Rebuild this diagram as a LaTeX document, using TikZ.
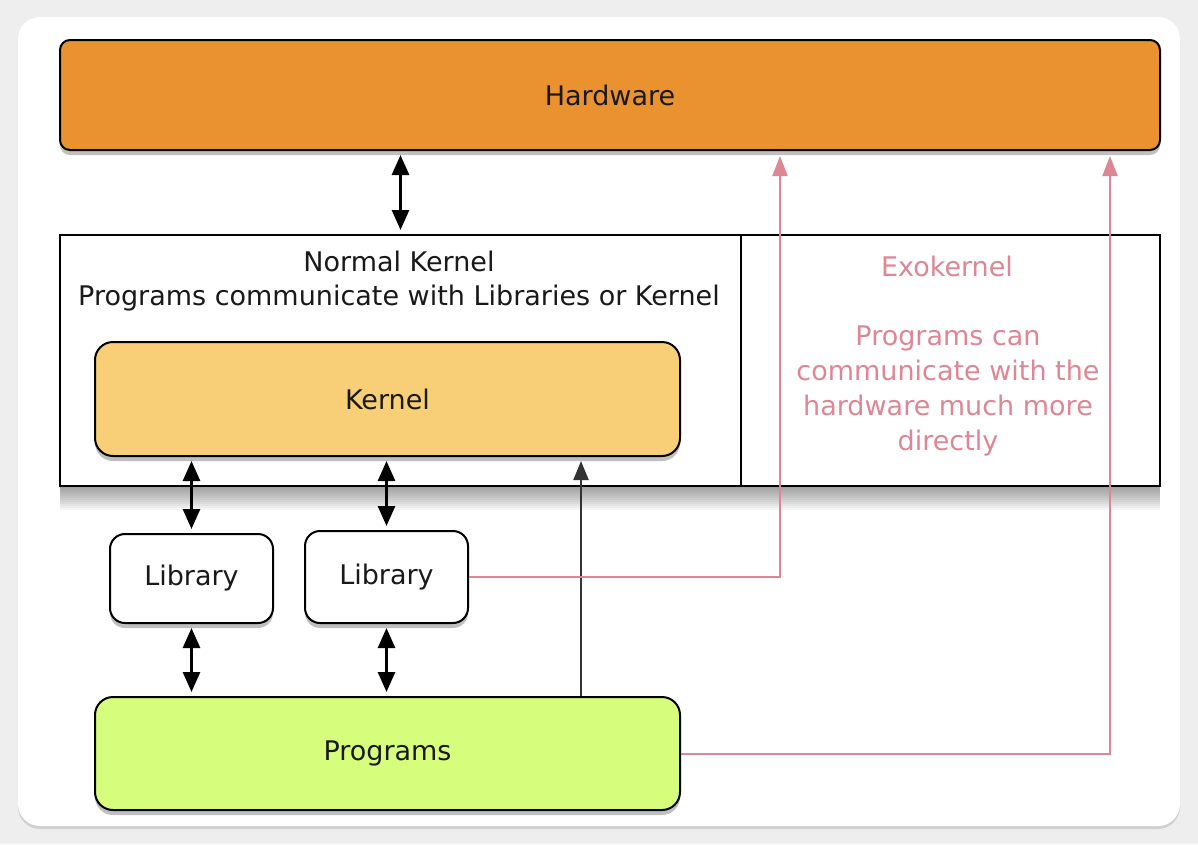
\documentclass[tikz,border=0pt]{standalone}
\usepackage{fontspec}
\setmainfont{DejaVu Sans}
\usetikzlibrary{arrows.meta,shadows,calc}
\definecolor{hwc}{RGB}{234,145,48}
\definecolor{knc}{RGB}{248,207,118}
\definecolor{pgc}{RGB}{214,254,124}
\definecolor{pinkc}{RGB}{222,134,148}
\definecolor{bgc}{RGB}{238,238,238}
\definecolor{txt}{RGB}{25,25,25}
\tikzset{
  sh/.style={drop shadow={shadow xshift=0pt,shadow yshift=-5pt,opacity=0.25,fill=black}},
  boxx/.style={draw=black,line width=2pt,inner sep=0pt,text=txt,
    font=\fontsize{27}{34}\selectfont,sh},
  plain/.style={draw=black,line width=2pt,inner sep=0pt},
  dbl/.style={line width=2.8pt,black,{Triangle[width=17pt,length=20pt]}-{Triangle[width=17pt,length=20pt]},
    shorten <=4pt,shorten >=4pt},
  sgl/.style={line width=2.2pt,black!80,-{Triangle[width=15pt,length=19pt]},shorten >=4pt},
  pnk/.style={line width=2pt,pinkc,-{Triangle[width=15pt,length=20pt]},shorten >=5pt},
  lbl/.style={text=txt,font=\fontsize{27}{34}\selectfont,align=center,inner sep=0pt},
  plbl/.style={text=pinkc,font=\fontsize{27}{35}\selectfont,align=center,inner sep=0pt},
}
\begin{document}
\begin{tikzpicture}[x=1pt,y=-1pt]
\useasboundingbox (0,0) rectangle (1198,844);
\fill[bgc] (0,0) rectangle (1198,844);
\fill[white,rounded corners=22pt,drop shadow={shadow xshift=0pt,shadow yshift=-3pt,opacity=0.12,fill=black}] (18,17) rectangle (1180,826);

% soft shadow under the kernel frame
\foreach \k in {2,4,...,24} {
  \fill[black,opacity=0.035] (60,300) rectangle (1160,486+\k);
}

\node[boxx,fill=hwc,rounded corners=10pt,minimum width=1100pt,minimum height=110pt] (hw) at (610,95) {Hardware};
\node[plain,fill=white,minimum width=681pt,minimum height=251pt] (normal) at (400.5,360.5) {};
\node[plain,fill=white,minimum width=419pt,minimum height=251pt] (exo) at (950.5,360.5) {};
\node[boxx,fill=knc,rounded corners=18pt,minimum width=585pt,minimum height=114pt] (kernel) at (387.5,399) {Kernel};
\node[boxx,fill=white,rounded corners=15pt,minimum width=163pt,minimum height=89pt] (lib1) at (191.5,578.5) {Library};
\node[boxx,fill=white,rounded corners=15pt,minimum width=163pt,minimum height=92pt] (lib2) at (386.5,577) {Library};
\node[boxx,fill=pgc,rounded corners=18pt,minimum width=585pt,minimum height=113pt] (prog) at (387.5,753.5) {Programs};

\node[lbl] (ntext) at (399,281) {Normal Kernel\\Programs communicate with Libraries or Kernel};
\node[plbl] (etitle) at (947,266) {Exokernel};
\node[plbl] (etext) at (948,391) {Programs can\\communicate with the\\hardware much more\\directly};

\draw[dbl] (hw.south -| normal.north) -- (normal.north);
\draw[dbl] (lib1.north |- kernel.south) -- (lib1.north);
\draw[dbl] (lib2.north |- kernel.south) -- (lib2.north);
\draw[dbl] (lib1.south) -- (lib1.south |- prog.north);
\draw[dbl] (lib2.south) -- (lib2.south |- prog.north);
\draw[sgl] ([xshift=193.5pt]prog.north) -- ([xshift=193.5pt]kernel.south);
\draw[pnk] (lib2.east) -| ([xshift=170pt]hw.south);
\draw[pnk] (prog.east) -| ([xshift=500pt]hw.south);
\end{tikzpicture}
\end{document}
